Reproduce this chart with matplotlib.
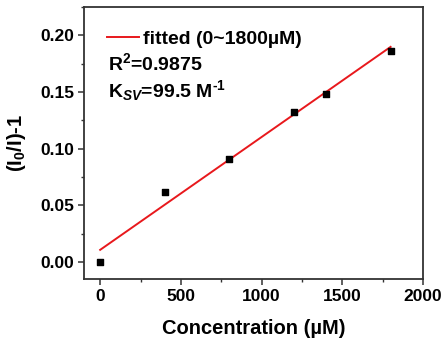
import matplotlib
matplotlib.use("Agg")
import matplotlib.pyplot as plt
import numpy as np
from matplotlib.ticker import MultipleLocator

# Data
conc = [0, 400, 800, 1200, 1400, 1800]
response = [0.000, 0.062, 0.091, 0.132, 0.148, 0.186]
fit_range = [0, 1800]
fit_slope = 9.95e-5
fit_intercept = 0.0106
legend_label = "fitted (0~1800\u00b5M)"
r2_text = r"R$^{2}$=0.9875"
ksv_text = r"K$_{\mathit{SV}}$=99.5 M$^{\text{-1}}$"
xticks = [0, 500, 1000, 1500, 2000]
yticks = [0.00, 0.05, 0.10, 0.15, 0.20]

plt.rcParams['font.family'] = ['Liberation Sans', 'DejaVu Sans']
plt.rcParams['font.weight'] = 'bold'
plt.rcParams['mathtext.fontset'] = 'custom'
plt.rcParams['mathtext.rm'] = 'Liberation Sans:bold'
plt.rcParams['mathtext.bf'] = 'Liberation Sans:bold'
plt.rcParams['mathtext.it'] = 'Liberation Sans:bold:italic'
plt.rcParams['mathtext.default'] = 'rm'

fig = plt.figure(figsize=(4.47, 3.43), dpi=100)
ax = fig.add_axes([0.188, 0.187, 0.758, 0.793])

fx = np.array(fit_range, dtype=float)
ax.plot(fx, fit_intercept + fit_slope * fx, color='#e8181c', lw=1.4, label=legend_label, zorder=2)
ax.scatter(conc, response, marker='s', s=24, color='black', zorder=3)

ax.set_xlim(-100, 2000)
ax.set_ylim(-0.015, 0.225)
ax.set_xticks(xticks)
ax.set_yticks(yticks)
ax.set_yticklabels([f"{v:.2f}" for v in yticks])
ax.xaxis.set_minor_locator(MultipleLocator(250))
ax.yaxis.set_minor_locator(MultipleLocator(0.025))

frame_color = '#333333'
for s in ax.spines.values():
    s.set_color(frame_color)
    s.set_linewidth(1.3)
ax.tick_params(which='major', direction='out', length=4, width=1.1, color=frame_color,
               labelsize=12.5, pad=3)
ax.tick_params(which='minor', direction='out', length=2.5, width=1.0, color=frame_color)
for lab in ax.get_xticklabels() + ax.get_yticklabels():
    lab.set_fontweight('bold')

ax.set_xlabel("Concentration (\u00b5M)", fontsize=14.5, fontweight='bold', labelpad=11)
ax.set_ylabel(r"(I$_{0}$/I)-1", fontsize=14.5, fontweight='bold', labelpad=9)

leg = ax.legend(loc='center left', bbox_to_anchor=(0.068, 0.882), frameon=False,
                fontsize=14, handlelength=1.65, handletextpad=0.2, borderaxespad=0,
                borderpad=0)
for t in leg.get_texts():
    t.set_fontweight('bold')

ax.text(0.07, 0.768, r2_text, transform=ax.transAxes, fontsize=14, fontweight='bold', va='baseline')
ax.text(0.07, 0.669, ksv_text, transform=ax.transAxes, fontsize=14, fontweight='bold', va='baseline')

fig.savefig("out.png", dpi=100)
